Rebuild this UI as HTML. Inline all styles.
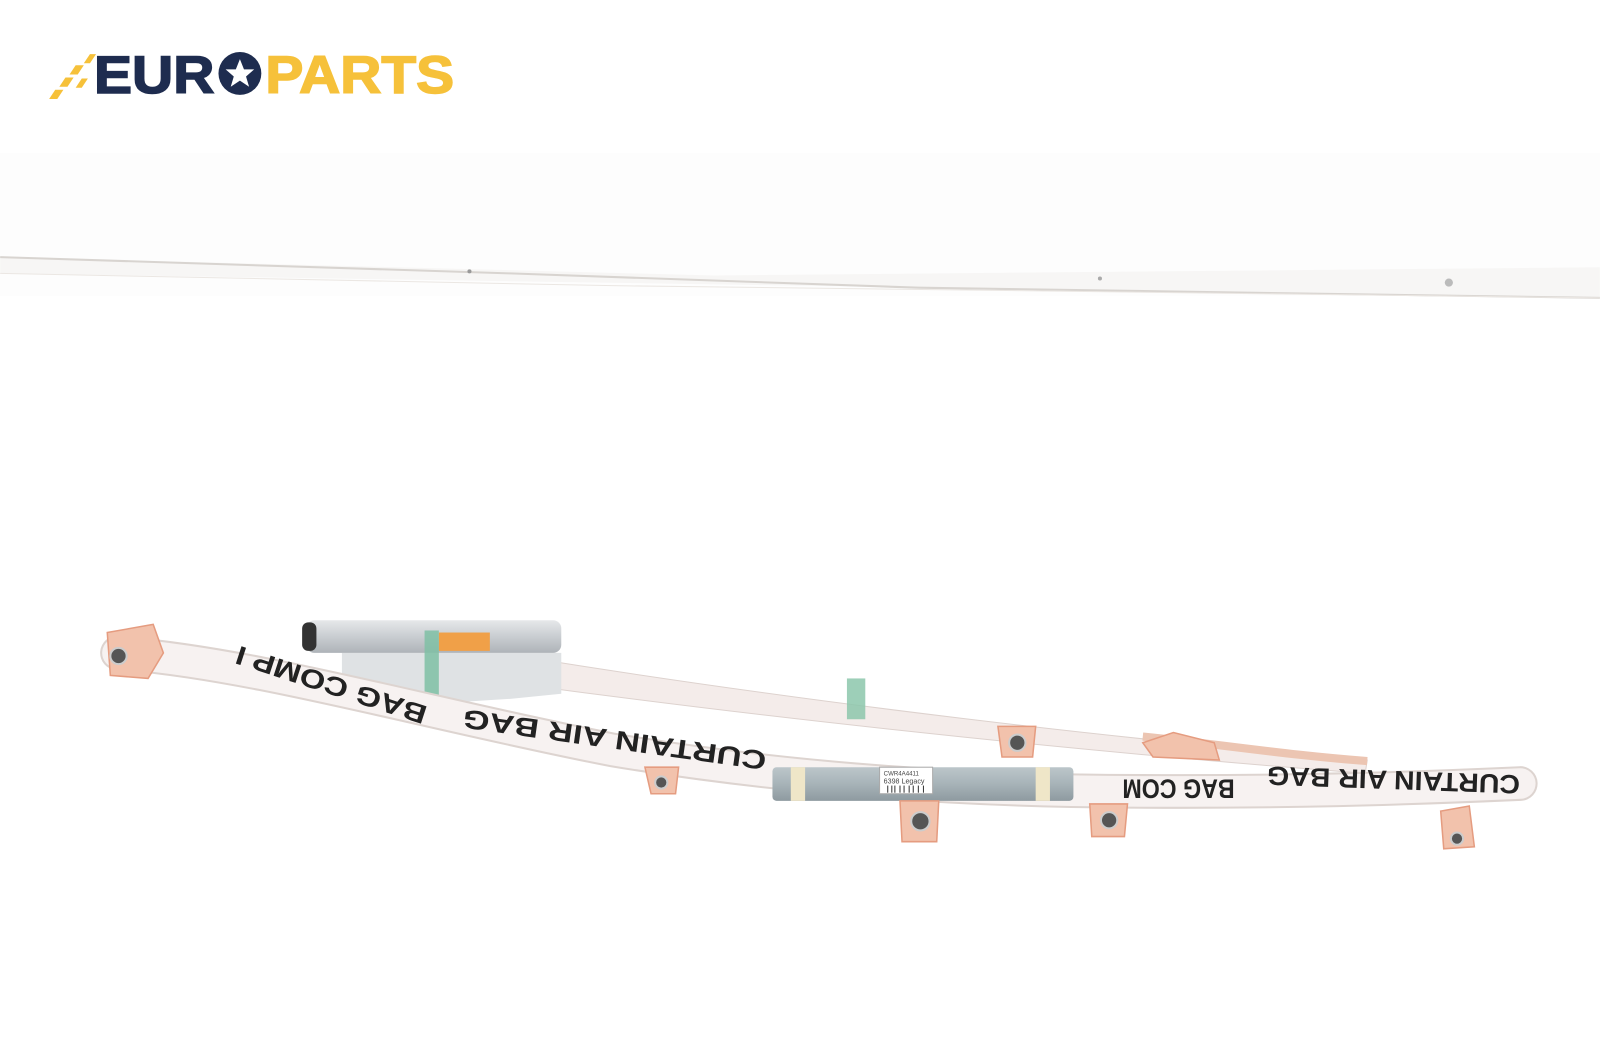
<!DOCTYPE html>
<html><head><meta charset="utf-8"><style>
html,body{margin:0;padding:0;background:#fff;width:1600px;height:1060px;overflow:hidden}
svg{display:block}
</style></head><body>
<svg width="1600" height="1060" viewBox="0 0 1568 1039" xmlns="http://www.w3.org/2000/svg">
<defs>
<linearGradient id="sil" x1="0" y1="0" x2="0" y2="1"><stop offset="0" stop-color="#e6e8ea"/><stop offset="0.5" stop-color="#c9cdd1"/><stop offset="1" stop-color="#aeb3b8"/></linearGradient>
<linearGradient id="blu" x1="0" y1="0" x2="0" y2="1"><stop offset="0" stop-color="#bcc6ca"/><stop offset="0.5" stop-color="#a7b3b8"/><stop offset="1" stop-color="#8e9aa0"/></linearGradient>
</defs>
<rect width="1568" height="1039" fill="#ffffff"/>
<rect x="0" y="150" width="1568" height="140" fill="#fdfdfd"/>
<path d="M0 252 L700 270 L1568 262 L1568 292 L0 268 Z" fill="#f7f6f5"/>
<path d="M0 252 L500 268 L900 282 L1568 292" stroke="#d8d4d0" stroke-width="2" fill="none"/>
<path d="M0 268 L600 280 L1568 292" stroke="#ebe7e3" stroke-width="1" fill="none"/>
<circle cx="460" cy="266" r="2" fill="#999"/><circle cx="1420" cy="277" r="4" fill="#bbb"/><circle cx="1078" cy="273" r="2" fill="#aaa"/>
<g fill="#f6c13a"><path d="M48 97 L54 88 L62 88 L56 97Z"/><path d="M58 85 L64 76 L72 76 L66 85Z"/><path d="M68 73 L74 64 L82 64 L76 73Z"/><path d="M74 86 L80 77 L86 77 L80 86Z"/><path d="M82 62 L88 53 L94 53 L88 62Z"/></g>
<text x="92" y="91" font-family="Liberation Sans, sans-serif" font-weight="bold" font-size="52" fill="#1e2c4f" stroke="#1e2c4f" stroke-width="1.5" textLength="118" lengthAdjust="spacingAndGlyphs">EUR</text>
<circle cx="235" cy="72" r="21" fill="#1e2c4f"/>
<polygon points="235,58 239,68 249,68 241,75 244,85 235,79 226,85 229,75 221,68 231,68" fill="#fff"/>
<text x="260" y="91" font-family="Liberation Sans, sans-serif" font-weight="bold" font-size="52" fill="#f6c13a" stroke="#f6c13a" stroke-width="1.5" textLength="185" lengthAdjust="spacingAndGlyphs">PARTS</text>
<path d="M520 645 C800 690 1100 725 1340 745 L1338 758 C1100 740 800 710 520 672 Z" fill="#f4ecea" stroke="#ddd2ce"/>
<path d="M1120 722 C1200 730 1260 740 1340 746" stroke="#ecc5b2" stroke-width="8" fill="none"/>
<path d="M335 640 L550 640 L550 680 L500 685 L420 690 L335 660 Z" fill="#dfe2e4"/>
<rect x="300" y="608" width="250" height="32" rx="8" fill="url(#sil)"/>
<rect x="296" y="610" width="14" height="28" rx="6" fill="#333"/>
<rect x="430" y="620" width="50" height="18" fill="#f0a048"/>
<rect x="416" y="618" width="14" height="70" fill="#7fbfa4" opacity="0.85"/>
<rect x="830" y="665" width="18" height="40" fill="#8cc7ab" opacity="0.85"/>
<path d="M115 640 C250 650 420 700 600 735 C750 760 900 772 1050 775 C1250 778 1400 772 1490 768" stroke="#ddd4d0" stroke-width="34" fill="none" stroke-linecap="round"/>
<path d="M115 640 C250 650 420 700 600 735 C750 760 900 772 1050 775 C1250 778 1400 772 1490 768" stroke="#f7f2f1" stroke-width="30" fill="none" stroke-linecap="round"/>
<rect x="757" y="752" width="295" height="33" rx="4" fill="url(#blu)"/>
<rect x="775" y="752" width="14" height="33" fill="#efe6c8"/><rect x="1015" y="752" width="14" height="33" fill="#efe6c8"/>
<rect x="862" y="752" width="52" height="26" fill="#fff" stroke="#aaa"/>
<text x="866" y="760" font-family="Liberation Sans, sans-serif" font-size="6" fill="#444">CWR4A4411</text>
<text x="866" y="768" font-family="Liberation Sans, sans-serif" font-size="7" fill="#444">6398 Legacy</text>
<g stroke="#333" stroke-width="1"><line x1="870" y1="770" x2="870" y2="777"/><line x1="874" y1="770" x2="874" y2="777"/><line x1="877" y1="770" x2="877" y2="777"/><line x1="882" y1="770" x2="882" y2="777"/><line x1="886" y1="770" x2="886" y2="777"/><line x1="891" y1="770" x2="891" y2="777"/><line x1="895" y1="770" x2="895" y2="777"/><line x1="900" y1="770" x2="900" y2="777"/><line x1="905" y1="770" x2="905" y2="777"/></g>
<g font-family="Liberation Sans, sans-serif" font-weight="bold" font-size="26" fill="#222">
<text transform="translate(752,737) rotate(188)" textLength="300" lengthAdjust="spacingAndGlyphs">CURTAIN AIR BAG</text>
<text transform="translate(420,693) rotate(198)" textLength="195" lengthAdjust="spacingAndGlyphs">BAG COMP I</text>
<text transform="translate(1210,764) rotate(180)" textLength="110" lengthAdjust="spacingAndGlyphs">BAG COM</text>
<text transform="translate(1490,760) rotate(182)" textLength="248" lengthAdjust="spacingAndGlyphs">CURTAIN AIR BAG</text>
</g>
<g fill="#f2c2ac" stroke="#e59c80" stroke-width="1.5">
<path d="M105 620 L150 612 L160 640 L145 665 L108 662 Z"/>
<path d="M632 752 L665 752 L662 778 L638 778 Z"/>
<path d="M882 785 L920 785 L918 825 L884 825 Z"/>
<path d="M978 712 L1015 712 L1012 742 L982 742 Z"/>
<path d="M1068 788 L1105 788 L1102 820 L1070 820 Z"/>
<path d="M1412 795 L1440 790 L1445 830 L1415 832 Z"/>
<path d="M1120 728 L1150 718 L1190 728 L1195 745 L1130 742 Z"/>
</g>
<g fill="#555" stroke="#ccc" stroke-width="2">
<circle cx="116" cy="643" r="8"/><circle cx="648" cy="767" r="6"/><circle cx="902" cy="805" r="9"/><circle cx="997" cy="728" r="8"/><circle cx="1087" cy="804" r="8"/><circle cx="1428" cy="822" r="6"/>
</g>
</svg>
</body></html>
